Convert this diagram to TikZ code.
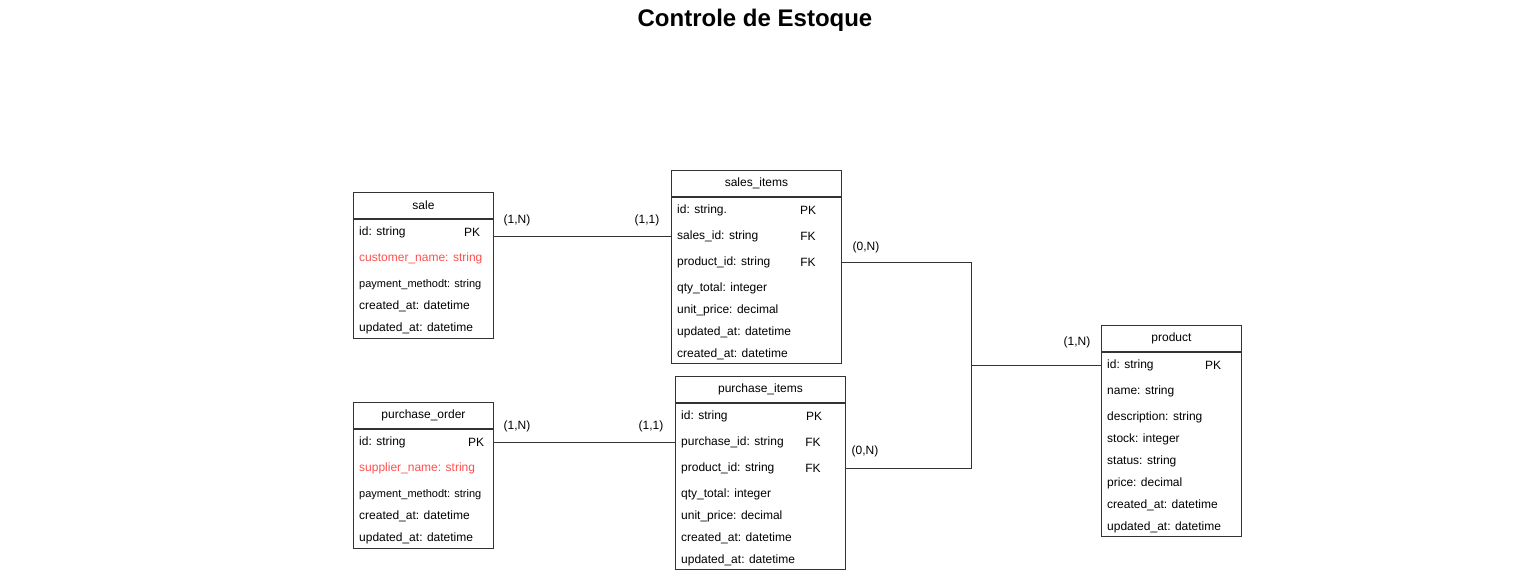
\documentclass[tikz,border=0pt]{standalone}
\usepackage{fontspec}
\setmainfont{Liberation Sans}
\usepackage{tikz}
\usetikzlibrary{positioning,calc}
\definecolor{edge}{HTML}{333333}
\definecolor{attrred}{HTML}{FF4F4F}

\begin{document}
\begin{tikzpicture}[x=1pt,y=-1pt,
		head/.style={draw=edge,line width=0.9pt,fill=white,minimum width=#1,minimum height=26pt,inner sep=0pt,font=\fontsize{12}{14}\selectfont},
		body/.style={draw=edge,line width=0.9pt,fill=white,minimum width=#1,inner sep=0pt},
		attr/.style={anchor=west,inner sep=0pt,yshift=-1pt,font=\fontsize{12}{14}\selectfont},
		small/.style={attr,font=\fontsize{11}{13}\selectfont},
		key/.style={inner sep=0pt,yshift=-1pt,font=\fontsize{12}{14}\selectfont},
		card/.style={inner sep=0pt,yshift=-1pt,font=\fontsize{12}{14}\selectfont},
		rel/.style={draw=edge,line width=0.9pt}
		]
		\useasboundingbox (0,0) rectangle (1521,582);
		\node[font=\fontsize{24}{28}\selectfont\bfseries] (title) at (755,20) {Controle de Estoque};

		% sale
		\node[head=140pt,anchor=north west] (sale) at (353,192) {sale};
		\node[body=140pt,minimum height=119pt,anchor=north] (sale-b) at (sale.south) {};
		\node[attr] (sale-id) at (359,231) {id: string};
		\node[key] at (472,231) {PK};
		\node[attr,text=attrred] (sale-cn) at (359,257) {customer\_name: string};
		\node[small] (sale-pm) at (359,284) {payment\_methodt: string};
		\node[attr] (sale-ca) at (359,305) {created\_at: datetime};
		\node[attr] (sale-ua) at (359,327) {updated\_at: datetime};

		% purchase_order
		\node[head=140pt,anchor=north west] (po) at (353,402) {purchase\_order};
		\node[body=140pt,minimum height=119pt,anchor=north] (po-b) at (po.south) {};
		\node[attr] (po-id) at (359,441) {id: string};
		\node[key] at (476,441) {PK};
		\node[attr,text=attrred] (po-sn) at (359,467) {supplier\_name: string};
		\node[small] (po-pm) at (359,494) {payment\_methodt: string};
		\node[attr] (po-ca) at (359,515) {created\_at: datetime};
		\node[attr] (po-ua) at (359,537) {updated\_at: datetime};

		% sales_items
		\node[head=170pt,anchor=north west] (si) at (671,170) {sales\_items};
		\node[body=170pt,minimum height=166pt,anchor=north] (si-b) at (si.south) {};
		\node[attr] (si-id) at (677,209) {id: string.};
		\node[key] at (808,209) {PK};
		\node[attr] (si-sid) at (677,235) {sales\_id: string};
		\node[key] at (808,235) {FK};
		\node[attr] (si-pid) at (677,261) {product\_id: string};
		\node[key] at (808,261) {FK};
		\node[attr] (si-qt) at (677,287) {qty\_total: integer};
		\node[attr] (si-up) at (677,309) {unit\_price: decimal};
		\node[attr] (si-ua) at (677,331) {updated\_at: datetime};
		\node[attr] (si-ca) at (677,353) {created\_at: datetime};

		% purchase_items
		\node[head=170pt,anchor=north west] (pi) at (675,376) {purchase\_items};
		\node[body=170pt,minimum height=166pt,anchor=north] (pi-b) at (pi.south) {};
		\node[attr] (pi-id) at (681,415) {id: string};
		\node[key] at (814,415) {PK};
		\node[attr] (pi-puid) at (681,441) {purchase\_id: string};
		\node[key] at (813,441) {FK};
		\node[attr] (pi-pid) at (681,467) {product\_id: string};
		\node[key] at (813,467) {FK};
		\node[attr] (pi-qt) at (681,493) {qty\_total: integer};
		\node[attr] (pi-up) at (681,515) {unit\_price: decimal};
		\node[attr] (pi-ca) at (681,537) {created\_at: datetime};
		\node[attr] (pi-ua) at (681,559) {updated\_at: datetime};

		% product
		\node[head=140pt,anchor=north west] (pr) at (1101,325) {product};
		\node[body=140pt,minimum height=184pt,anchor=north] (pr-b) at (pr.south) {};
		\node[attr] (pr-id) at (1107,364) {id: string};
		\node[key] at (1213,364) {PK};
		\node[attr] (pr-nm) at (1107,390) {name: string};
		\node[attr] (pr-ds) at (1107,416) {description: string};
		\node[attr] (pr-st) at (1107,438) {stock: integer};
		\node[attr] (pr-ss) at (1107,460) {status: string};
		\node[attr] (pr-pc) at (1107,482) {price: decimal};
		\node[attr] (pr-ca) at (1107,504) {created\_at: datetime};
		\node[attr] (pr-ua) at (1107,526) {updated\_at: datetime};

		% relationships
		\coordinate (mid) at ($(si-b.east)!0.5!(pr-b.west)$);
		\coordinate (jn) at (mid |- pr-id.west);
		\draw[rel] (si-sid -| sale-b.east) -- (si-sid -| si-b.west);
		\draw[rel] (po-id -| po-b.east) -- (po-id -| pi-b.west);
		\draw[rel] (si-pid -| si-b.east) -| (jn) -- (pr-id.west -| pr-b.west);
		\draw[rel] (pi-pid -| pi-b.east) -| (jn);

		\node[card] (c1) at (517,219) {(1,N)};
		\node[card] (c2) at (647,219) {(1,1)};
		\node[card] (c3) at (517,425) {(1,N)};
		\node[card] (c4) at (651,425) {(1,1)};
		\node[card] (c5) at (866,246) {(0,N)};
		\node[card] (c6) at (865,450) {(0,N)};
		\node[card] (c7) at (1077,341) {(1,N)};
	\end{tikzpicture}
\end{document}
